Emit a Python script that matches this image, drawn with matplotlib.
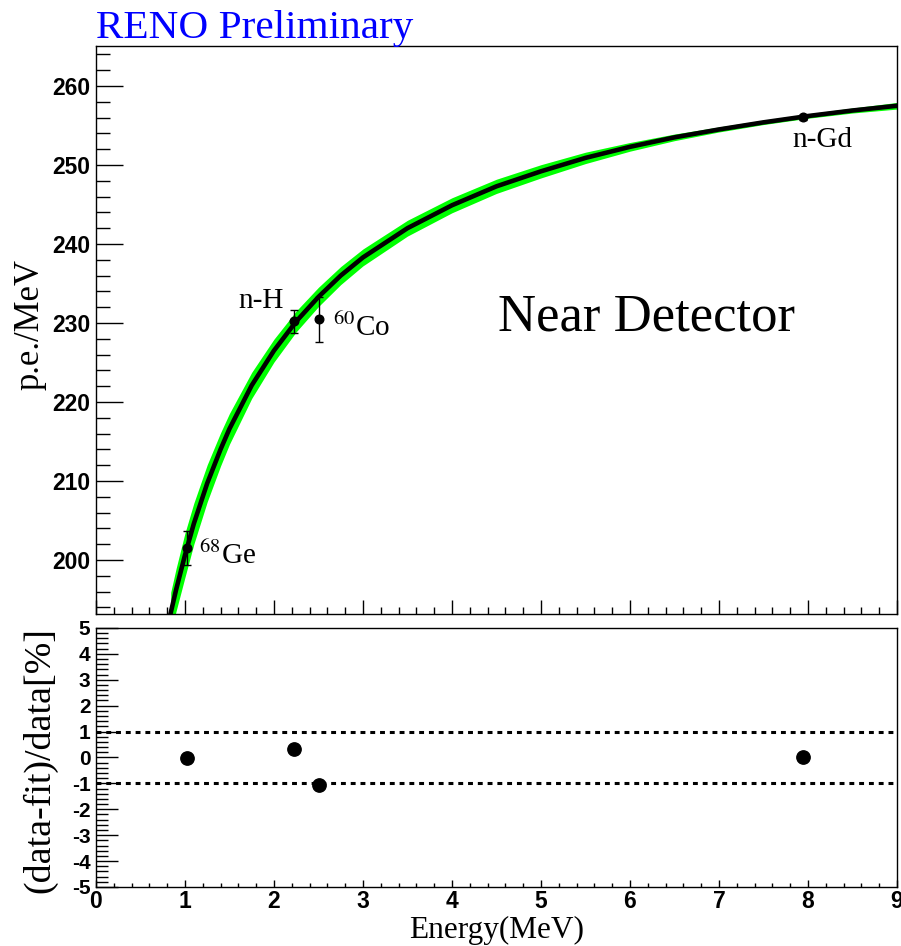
import numpy as np
import matplotlib
matplotlib.use('Agg')
import matplotlib.pyplot as plt
from matplotlib.ticker import MultipleLocator

plt.rcParams['axes.unicode_minus'] = False
plt.rcParams['mathtext.fontset'] = 'stix'

# calibration sources
src_E = [1.022, 2.223, 2.506, 7.94]
src_pe = [201.5, 230.2, 230.5, 256.05]
src_err = [2.1, 1.5, 2.85, 0.3]
src_res = [-0.03, 0.32, -1.07, 0.0]

# fit curve
fit_E = [0.84, 0.9, 1.0, 1.1, 1.25, 1.4, 1.5, 1.75, 2.0, 2.25, 2.5, 2.75, 3.0,
         3.5, 4.0, 4.5, 5.0, 5.5, 6.0, 6.5, 7.0, 7.5, 8.0, 8.5, 9.0]
fit_pe = [193.3, 196.2, 200.6, 204.6, 209.7, 214.0, 216.6, 222.1, 226.5, 230.2,
          233.3, 236.0, 238.3, 242.0, 244.9, 247.3, 249.2, 250.9, 252.3, 253.5,
          254.5, 255.4, 256.2, 256.9, 257.5]
# half width of the green error band
fit_band = [2.6, 2.7, 2.8, 2.6, 2.35, 2.1, 1.95, 1.65, 1.45, 1.32, 1.22, 1.14, 1.07,
            1.0, 0.95, 0.9, 0.84, 0.72, 0.55, 0.42, 0.32, 0.28, 0.28, 0.32, 0.42]

fig = plt.figure(figsize=(9.01, 9.46), dpi=100)
ax1 = fig.add_axes([0.1065, 0.3510, 0.889, 0.6004])
ax2 = fig.add_axes([0.1065, 0.0624, 0.889, 0.2738])

fe = np.array(fit_E)
fp = np.array(fit_pe)
fb = np.array(fit_band)

#### top panel ####
ax1.fill_between(fe, fp - fb, fp + fb, color='#00ff00', lw=0, zorder=1)
ax1.plot(fe, fp, color='black', lw=3.3, zorder=2)
ax1.errorbar(src_E, src_pe, yerr=src_err, fmt='o', color='black', ms=6.2,
             elinewidth=1.0, capsize=3, capthick=1.0, zorder=3)

ax1.set_xlim(0, 9)
ax1.set_ylim(193.16, 265.07)

tfont = dict(family='Liberation Serif', fontsize=21)
ax1.text(1.6, 231.9, 'n-H', **tfont)
ax1.text(2.66, 228.3, '$^{60}$Co', **tfont)
ax1.text(1.16, 199.5, '$^{68}$Ge', **tfont)
ax1.text(7.82, 252.3, 'n-Gd', **tfont)
ax1.text(4.52, 229.0, 'Near Detector', family='Liberation Serif', fontsize=38)

ax1.yaxis.set_major_locator(MultipleLocator(10))
ax1.yaxis.set_minor_locator(MultipleLocator(2))
ax1.xaxis.set_major_locator(MultipleLocator(1))
ax1.xaxis.set_minor_locator(MultipleLocator(0.2))
ax1.tick_params(axis='y', which='major', direction='in', length=19.4, width=1.0, pad=4)
ax1.tick_params(axis='y', which='minor', direction='in', length=10, width=1.0)
ax1.tick_params(axis='x', which='major', direction='in', length=10, width=1.0, labelbottom=False)
ax1.tick_params(axis='x', which='minor', direction='in', length=5, width=1.0)
for lab in ax1.get_yticklabels():
    lab.set_family('Liberation Sans')
    lab.set_weight('bold')
    lab.set_fontsize(16.5)

#### bottom panel ####
ax2.axhline(1, color='black', lw=2.2, ls=(0, (1.6, 1.6)), dash_capstyle='butt')
ax2.axhline(-1, color='black', lw=2.2, ls=(0, (1.6, 1.6)), dash_capstyle='butt')
ax2.plot(src_E, src_res, 'o', color='black', ms=9.6)

ax2.set_xlim(0, 9)
ax2.set_ylim(-5, 5)
ax2.yaxis.set_major_locator(MultipleLocator(1))
ax2.yaxis.set_minor_locator(MultipleLocator(0.2))
ax2.xaxis.set_major_locator(MultipleLocator(1))
ax2.xaxis.set_minor_locator(MultipleLocator(0.2))
ax2.tick_params(axis='y', which='major', direction='in', length=16, width=1.0, pad=4)
ax2.tick_params(axis='y', which='minor', direction='in', length=8.6, width=1.0)
ax2.tick_params(axis='x', which='major', direction='in', length=5, width=1.0, pad=2)
ax2.tick_params(axis='x', which='minor', direction='in', length=2.9, width=1.0)
for lab in ax2.get_yticklabels():
    lab.set_family('Liberation Sans')
    lab.set_weight('bold')
    lab.set_fontsize(15)
for lab in ax2.get_xticklabels():
    lab.set_family('Liberation Sans')
    lab.set_weight('bold')
    lab.set_fontsize(16.5)

for a in (ax1, ax2):
    for s in a.spines.values():
        s.set_linewidth(1.0)

fig.text(0.1065, 1 - 38 / 946, 'RENO Preliminary', color='#0000ff',
         family='Liberation Serif', fontsize=29.7, va='baseline', ha='left')
fig.text(30 / 901, 1 - 324 / 946, 'p.e./MeV', family='Liberation Serif',
         fontsize=25, rotation=90, ha='center', va='center')
fig.text(40 / 901, 1 - 760 / 946, '(data-fit)/data[%]', family='Liberation Serif',
         fontsize=27.4, rotation=90, ha='center', va='center')
fig.text(496.5 / 901, 1 - 930 / 946, 'Energy(MeV)', family='Liberation Serif',
         fontsize=22.5, ha='center', va='center')

fig.savefig('out.png', dpi=100)
